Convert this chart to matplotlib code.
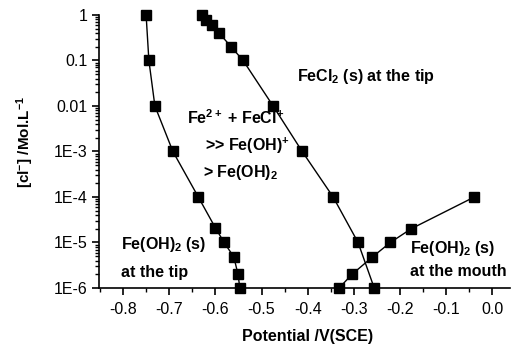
import matplotlib
matplotlib.use("Agg")
import matplotlib.pyplot as plt
import numpy as np
from matplotlib.ticker import FixedLocator, FixedFormatter, LogLocator, MultipleLocator

plt.rcParams['font.family'] = ['Liberation Sans', 'DejaVu Sans']
plt.rcParams['mathtext.fontset'] = 'custom'
plt.rcParams['mathtext.rm'] = 'Liberation Sans:bold'
plt.rcParams['mathtext.it'] = 'Liberation Sans:bold'
plt.rcParams['mathtext.bf'] = 'Liberation Sans:bold'
plt.rcParams['mathtext.default'] = 'rm'

# Fe(OH)2 at the tip
tip_x = [-0.750, -0.744, -0.731, -0.692, -0.637, -0.600, -0.581, -0.560, -0.551, -0.547]
tip_y = [1, 0.1, 0.01, 1e-3, 1e-4, 2.1e-5, 1e-5, 4.8e-6, 2e-6, 1e-6]

# FeCl2 at the tip
fecl_x = [-0.629, -0.620, -0.607, -0.592, -0.566, -0.540, -0.475, -0.412, -0.345, -0.291, -0.256]
fecl_y = [1, 0.78, 0.6, 0.4, 0.2, 0.1, 0.01, 1e-3, 1e-4, 1e-5, 1e-6]

# Fe(OH)2 at the mouth
mouth_x = [-0.332, -0.304, -0.260, -0.221, -0.176, -0.039]
mouth_y = [1e-6, 2e-6, 4.8e-6, 1e-5, 2e-5, 1e-4]

ytick_vals = [1, 0.1, 0.01, 1e-3, 1e-4, 1e-5, 1e-6]
ytick_labels = ["1", "0.1", "0.01", "1E-3", "1E-4", "1E-5", "1E-6"]
xtick_vals = [-0.8, -0.7, -0.6, -0.5, -0.4, -0.3, -0.2, -0.1, 0.0]
xtick_labels = ["-0.8", "-0.7", "-0.6", "-0.5", "-0.4", "-0.3", "-0.2", "-0.1", "0.0"]

fig = plt.figure(figsize=(5.13, 3.51), dpi=100)
ax = fig.add_axes([0.193, 0.1795, 0.802, 0.778])

for xs, ys in [(tip_x, tip_y), (fecl_x, fecl_y), (mouth_x, mouth_y)]:
    ax.plot(xs, ys, color='black', lw=1, marker='s', ms=6.5, mfc='black', mec='black',
            clip_on=False, zorder=3)

ax.set_yscale('log')
ax.set_xlim(-0.852, 0.039)
ax.set_ylim(1e-6, 1)

ax.yaxis.set_major_locator(FixedLocator(ytick_vals))
ax.yaxis.set_major_formatter(FixedFormatter(ytick_labels))
ax.yaxis.set_minor_locator(LogLocator(base=10, subs=np.arange(2, 10)))
ax.xaxis.set_major_locator(FixedLocator(xtick_vals))
ax.xaxis.set_major_formatter(FixedFormatter(xtick_labels))
ax.xaxis.set_minor_locator(MultipleLocator(0.05))

ax.spines['top'].set_visible(False)
ax.spines['right'].set_visible(False)
ax.spines['left'].set_linewidth(1.2)
ax.spines['bottom'].set_linewidth(1.2)
ax.tick_params(which='major', direction='out', length=5, width=1.2, labelsize=11.5)
ax.tick_params(which='major', axis='x', pad=5)
ax.tick_params(which='minor', direction='out', length=3, width=1)

fig.text(308 / 513, 1 - 337 / 351, 'Potential /V(SCE)', fontsize=11.5, fontweight='bold',
         ha='center', va='center')
fig.text(25 / 513, 1 - 142 / 351, r'[cl$^{-}$] /Mol.L$^{-1}$', fontsize=11, fontweight='bold',
         ha='center', va='center', rotation=90)


def txt(px, py, s):
    ax.text(px, 351 - py, s, fontsize=11.5, fontweight='bold', transform=None, va='center', ha='left')


txt(297, 77, r'FeCl$_2$ (s) at the tip')
txt(187, 118, r'Fe$^{2+}$ + FeCl$^{+}$')
txt(205, 146, r'>> Fe(OH)$^{+}$')
txt(203, 172, r'> Fe(OH)$_2$')
txt(121, 245, r'Fe(OH)$_2$ (s)')
txt(121, 272, 'at the tip')
txt(410, 248, r'Fe(OH)$_2$ (s)')
txt(410, 272, 'at the mouth')

fig.savefig('out.png', dpi=100)
